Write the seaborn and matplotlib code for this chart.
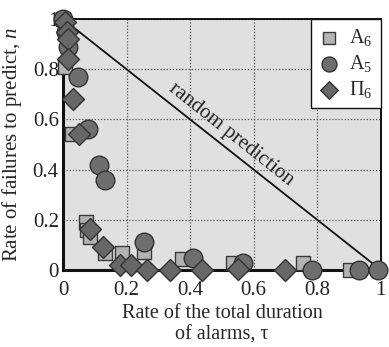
import matplotlib
matplotlib.use("Agg")
import matplotlib.pyplot as plt
import seaborn as sns
import pandas as pd

# A6 (squares)
a6_tau = [0.0, 0.006, 0.028, 0.072, 0.075, 0.085, 0.132, 0.186, 0.255, 0.374, 0.535, 0.755, 0.902]
a6_n = [1.0, 0.81, 0.54, 0.19, 0.16, 0.13, 0.068, 0.068, 0.07, 0.044, 0.028, 0.028, 0.0]

# A5 (circles)
a5_tau = [0.0, 0.01, 0.017, 0.047, 0.079, 0.113, 0.132, 0.255, 0.409, 0.566, 0.783, 0.931, 0.99]
a5_n = [1.0, 0.95, 0.89, 0.77, 0.56, 0.42, 0.36, 0.112, 0.048, 0.028, 0.0, 0.0, 0.0]

# P6 (diamonds)
p6_tau = [0.006, 0.012, 0.016, 0.016, 0.031, 0.05, 0.085, 0.126, 0.179, 0.214, 0.264, 0.336, 0.437, 0.55, 0.698]
p6_n = [0.99, 0.95, 0.92, 0.84, 0.68, 0.54, 0.164, 0.092, 0.02, 0.02, 0.0, 0.0, 0.0, 0.005, 0.0]

ticks = [0, 0.2, 0.4, 0.6, 0.8, 1]
tick_labels = ["0", "0.2", "0.4", "0.6", "0.8", "1"]

sns.set_style("white")
plt.rcParams["font.family"] = ["Liberation Serif", "DejaVu Serif"]
plt.rcParams["mathtext.fontset"] = "custom"
plt.rcParams["mathtext.rm"] = "Liberation Serif"
plt.rcParams["mathtext.it"] = "Liberation Serif:italic"

fig = plt.figure(figsize=(3.89, 3.47), dpi=100)
ax = fig.add_axes([0.162, 0.222, 0.817, 0.723])
ax.set_facecolor("#e0e0e0")

# random prediction line
ax.plot([0, 1], [1, 0], color="#111111", lw=1.3, zorder=2)
ax.text(0.53, 0.54, "random prediction", rotation=-38.5, ha="center", va="center",
        fontsize=15, rotation_mode="anchor")

df_a6 = pd.DataFrame({"tau": a6_tau, "n": a6_n})
df_a5 = pd.DataFrame({"tau": a5_tau, "n": a5_n})
df_p6 = pd.DataFrame({"tau": p6_tau, "n": p6_n})

sns.scatterplot(data=df_a6, x="tau", y="n", marker="s", s=115, color="#b3b3b3",
                edgecolor="#3a3a3a", linewidth=1.0, ax=ax, clip_on=False, zorder=3, label="A$_6$")
sns.scatterplot(data=df_a5, x="tau", y="n", marker="o", s=180, color="#6e6e6e",
                edgecolor="#333333", linewidth=1.0, ax=ax, clip_on=False, zorder=4, label="A$_5$")
sns.scatterplot(data=df_p6, x="tau", y="n", marker="D", s=125, color="#676767",
                edgecolor="#333333", linewidth=1.0, ax=ax, clip_on=False, zorder=5, label="Π$_6$")

ax.set_xlim(0, 1)
ax.set_ylim(0, 1)
ax.set_xticks(ticks)
ax.set_xticklabels(tick_labels)
ax.set_yticks(ticks)
ax.set_yticklabels(tick_labels)
ax.tick_params(length=0, labelsize=15, colors="#222222")
ax.tick_params(axis="x", pad=8)
ax.tick_params(axis="y", pad=3)
ax.grid(True, linestyle=(0, (1, 1.5)), color="#555555", lw=0.9)
ax.set_axisbelow(True)

for side in ["left", "bottom"]:
    ax.spines[side].set_linewidth(2.2)
for side in ["top", "right"]:
    ax.spines[side].set_linewidth(1.4)
for sp in ax.spines.values():
    sp.set_color("#111111")
    sp.set_visible(True)

ax.set_xlabel("Rate of the total duration\nof alarms, τ", fontsize=14.5, labelpad=3,
              linespacing=1.15)
ax.set_ylabel("Rate of failures to predict, $n$", fontsize=15, labelpad=6)

leg = ax.legend(loc="upper right", borderaxespad=0, frameon=True, fancybox=False,
                framealpha=1, edgecolor="#111111", fontsize=14.5, handletextpad=0.5,
                markerscale=0.8, borderpad=0.4, labelspacing=0.25, handlelength=1.0)
leg.get_frame().set_linewidth(1.0)
leg.set_zorder(10)

fig.savefig("out.png", dpi=100)
